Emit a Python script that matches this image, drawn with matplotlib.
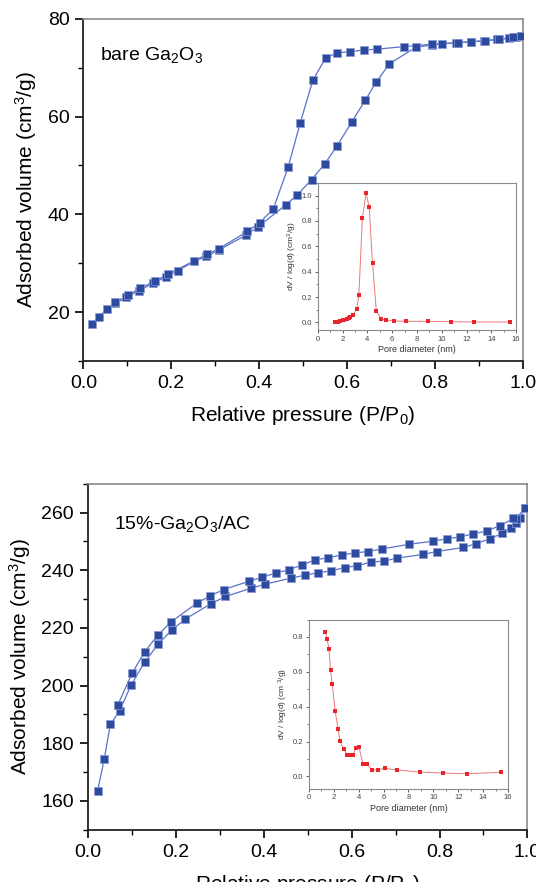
import numpy as np
import matplotlib
matplotlib.use("Agg")
import matplotlib.pyplot as plt
from matplotlib.ticker import MultipleLocator

plt.rcParams['font.family'] = ['Liberation Sans', 'DejaVu Sans']
plt.rcParams['mathtext.default'] = 'regular'

# bare Ga2O3 isotherm
bare_ads_p = [0.019, 0.036, 0.053, 0.072, 0.098, 0.126, 0.159, 0.187, 0.216, 0.252, 0.280, 0.308,
              0.369, 0.397, 0.460, 0.487, 0.519, 0.549, 0.577, 0.610, 0.641, 0.666, 0.696, 0.757,
              0.792, 0.816, 0.848, 0.882, 0.911, 0.942, 0.969, 0.984, 0.996]
bare_ads_v = [17.6, 19.1, 20.6, 21.8, 23.0, 24.4, 25.9, 27.2, 28.5, 30.4, 31.4, 32.7,
              35.7, 37.4, 41.9, 44.0, 47.1, 50.3, 54.0, 58.8, 63.3, 67.0, 70.8, 74.2,
              74.6, 74.9, 75.1, 75.3, 75.5, 75.8, 76.0, 76.2, 76.5]
bare_des_p = [0.996, 0.977, 0.946, 0.914, 0.883, 0.852, 0.792, 0.729, 0.669, 0.638, 0.607, 0.577,
              0.551, 0.522, 0.493, 0.466, 0.432, 0.401, 0.373, 0.309, 0.281, 0.193, 0.162, 0.129,
              0.101, 0.073]
bare_des_v = [76.5, 76.2, 75.8, 75.5, 75.3, 75.1, 74.8, 74.3, 73.8, 73.6, 73.3, 73.0,
              72.0, 67.4, 58.6, 49.7, 41.1, 38.3, 36.5, 33.0, 31.8, 27.8, 26.3, 24.9,
              23.4, 22.0]

# bare Ga2O3 pore size distribution
bare_psd_d = [1.38, 1.52, 1.66, 1.82, 1.99, 2.15, 2.32, 2.48, 2.59, 2.87, 3.14, 3.31, 3.59, 3.89,
              4.14, 4.41, 4.72, 5.13, 5.52, 6.12, 7.12, 8.91, 10.76, 12.63, 15.48]
bare_psd_v = [0.0, 0.003, 0.005, 0.011, 0.016, 0.021, 0.027, 0.035, 0.046, 0.059, 0.107, 0.214,
              0.82, 1.02, 0.909, 0.469, 0.086, 0.024, 0.019, 0.011, 0.008, 0.008, 0.005, 0.003, 0.003]

# 15%-Ga2O3/AC isotherm
ac_ads_p = [0.022, 0.037, 0.051, 0.072, 0.098, 0.129, 0.160, 0.191, 0.222, 0.280, 0.313, 0.372,
            0.404, 0.463, 0.494, 0.523, 0.553, 0.584, 0.613, 0.644, 0.674, 0.703, 0.763, 0.794,
            0.854, 0.883, 0.914, 0.943, 0.962, 0.973, 0.983, 0.994]
ac_ads_v = [163.4, 174.4, 186.5, 191.2, 200.1, 208.1, 214.4, 219.3, 223.1, 228.4, 230.9, 233.8,
            235.2, 237.3, 238.3, 239.1, 239.8, 240.9, 241.6, 242.8, 243.2, 244.2, 245.5, 246.5,
            247.9, 249.2, 250.9, 252.8, 254.7, 256.3, 258.0, 261.5]
ac_des_p = [0.994, 0.973, 0.968, 0.938, 0.907, 0.876, 0.847, 0.816, 0.786, 0.730, 0.670, 0.637,
            0.607, 0.577, 0.546, 0.516, 0.487, 0.458, 0.427, 0.397, 0.367, 0.309, 0.278, 0.248,
            0.190, 0.159, 0.129, 0.101, 0.068]
ac_des_v = [261.5, 257.7, 258.0, 255.5, 253.6, 252.6, 251.6, 250.9, 250.1, 249.0, 247.4, 246.5,
            246.0, 245.3, 244.3, 243.6, 241.8, 240.2, 239.0, 237.6, 236.2, 233.3, 231.1, 228.6,
            222.2, 217.5, 211.7, 204.4, 193.3]

# 15%-Ga2O3/AC pore size distribution
ac_psd_d = [1.34, 1.48, 1.62, 1.75, 1.89, 2.11, 2.36, 2.52, 2.79, 3.07, 3.23, 3.40, 3.56, 3.78,
            4.03, 4.36, 4.68, 5.07, 5.53, 6.08, 7.10, 8.90, 10.74, 12.68, 15.40]
ac_psd_v = [0.831, 0.786, 0.733, 0.608, 0.529, 0.378, 0.271, 0.202, 0.159, 0.125, 0.124, 0.124,
            0.125, 0.165, 0.169, 0.069, 0.069, 0.039, 0.037, 0.047, 0.037, 0.025, 0.020, 0.016, 0.024]

blue = "#2D4B9E"
blue_line = "#5A72C8"
red = "#E8252B"
red_line = "#F0787B"


def style_main(ax, ymin, ymax, ymaj, ymin_step):
    ax.set_xlim(0, 1.0)
    ax.set_ylim(ymin, ymax)
    ax.xaxis.set_major_locator(MultipleLocator(0.2))
    ax.xaxis.set_minor_locator(MultipleLocator(0.1))
    ax.yaxis.set_major_locator(MultipleLocator(ymaj))
    ax.yaxis.set_minor_locator(MultipleLocator(ymin_step))
    ax.tick_params(which="major", direction="out", length=6, width=1.2, labelsize=14, pad=4)
    ax.tick_params(which="minor", direction="out", length=3.5, width=1.0)
    ax.tick_params(top=False, right=False)
    for s in ["left", "bottom"]:
        ax.spines[s].set_linewidth(1.3)
        ax.spines[s].set_color("#222222")
    for s in ["top", "right"]:
        ax.spines[s].set_linewidth(1.2)
        ax.spines[s].set_color("#8A8A8A")
    ax.set_xlabel("Relative pressure (P/P$_0$)", fontsize=15, labelpad=9)
    ax.set_ylabel("Adsorbed volume (cm$^3$/g)", fontsize=15, labelpad=6)


def style_inset(ax, ymin, ymax, ylabel):
    ax.set_xlim(0, 16)
    ax.set_ylim(ymin, ymax)
    ax.xaxis.set_major_locator(MultipleLocator(2))
    ax.xaxis.set_minor_locator(MultipleLocator(1))
    ax.yaxis.set_major_locator(MultipleLocator(0.2))
    ax.yaxis.set_minor_locator(MultipleLocator(0.1))
    ax.tick_params(which="major", direction="out", length=2.5, width=0.6, labelsize=5.5,
                   pad=1.5, colors="#444444")
    ax.tick_params(which="minor", direction="out", length=1.5, width=0.5, colors="#444444")
    ax.tick_params(top=False, right=False)
    for s in ax.spines.values():
        s.set_color("#8A8A8A")
        s.set_linewidth(0.8)
    ax.set_xlabel("Pore diameter (nm)", fontsize=6.5, labelpad=2, color="#333333")
    ax.set_ylabel(ylabel, fontsize=6, labelpad=2, color="#333333")


fig = plt.figure(figsize=(5.36, 8.82), dpi=100)

# top panel
ax1 = fig.add_axes([0.1556, 0.5907, 0.820, 0.388])
for p, v in [(bare_ads_p, bare_ads_v), (bare_des_p, bare_des_v)]:
    ax1.plot(p, v, "-", color=blue_line, lw=0.9, zorder=2)
    ax1.plot(p, v, "s", color=blue, ms=5.4, mec="#8A9AD8", mew=0.5, zorder=3)
style_main(ax1, 10, 80, 20, 10)
ax1.text(0.037, 0.895, "bare Ga$_2$O$_3$", transform=ax1.transAxes, fontsize=14, va="center")

in1 = fig.add_axes([0.593, 0.6259, 0.370, 0.1667])
in1.plot(bare_psd_d, bare_psd_v, "-", color=red_line, lw=0.7)
in1.plot(bare_psd_d, bare_psd_v, "s", color=red, ms=2.2, mew=0)
style_inset(in1, -0.06, 1.1, "dV / log(d) (cm$^3$/g)")

# bottom panel
ax2 = fig.add_axes([0.164, 0.0593, 0.820, 0.3922])
for p, v in [(ac_ads_p, ac_ads_v), (ac_des_p, ac_des_v)]:
    ax2.plot(p, v, "-", color=blue_line, lw=0.9, zorder=2)
    ax2.plot(p, v, "s", color=blue, ms=5.4, mec="#8A9AD8", mew=0.5, zorder=3)
style_main(ax2, 150, 270, 20, 10)
ax2.text(0.06, 0.885, "15%-Ga$_2$O$_3$/AC", transform=ax2.transAxes, fontsize=14, va="center")

in2 = fig.add_axes([0.576, 0.1058, 0.372, 0.1918])
in2.plot(ac_psd_d, ac_psd_v, "-", color=red_line, lw=0.7)
in2.plot(ac_psd_d, ac_psd_v, "s", color=red, ms=2.2, mew=0)
style_inset(in2, -0.07, 0.9, "dV / log(d) (cm $^3$/g)")

fig.savefig("out.png", dpi=100)
